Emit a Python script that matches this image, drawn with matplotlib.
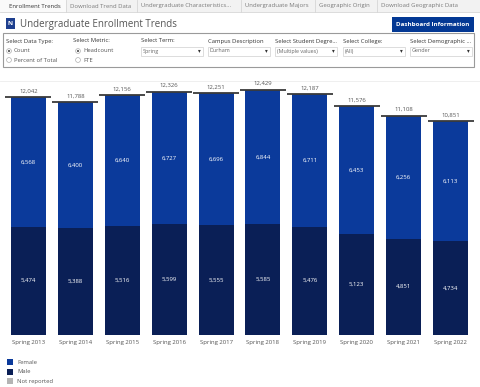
import matplotlib
matplotlib.use('Agg')
import matplotlib.pyplot as plt
from matplotlib.patches import Rectangle, Circle

plt.rcParams['font.family'] = ['Open Sans', 'DejaVu Sans']

# Data
terms = ['Spring 2013', 'Spring 2014', 'Spring 2015', 'Spring 2016', 'Spring 2017',
         'Spring 2018', 'Spring 2019', 'Spring 2020', 'Spring 2021', 'Spring 2022']
male = [5474, 5388, 5516, 5599, 5555, 5585, 5476, 5123, 4851, 4734]
female = [6568, 6400, 6640, 6727, 6696, 6844, 6711, 6453, 6256, 6113]
totals = [12042, 11788, 12156, 12326, 12251, 12429, 12187, 11576, 11108, 10851]
not_reported = [t - m - f for t, m, f in zip(totals, male, female)]

tabs = ['Enrollment Trends', 'Download Trend Data', 'Undergraduate Characteristics...',
        'Undergraduate Majors', 'Geographic Origin', 'Download Geographic Data']
tab_edges = [0, 66, 137, 241, 315, 377, 480]

filter_labels = ['Select Term:', 'Campus Description', 'Select Student Degre...',
                 'Select College:', 'Select Demographic ...']
filter_values = ['Spring', 'Durham', '(Multiple values)', '(All)', 'Gender']
filter_x = [141, 208, 275, 343, 410]

legend_names = ['Female', 'Male', 'Not reported']

FEMALE_C = '#0b3a9b'
MALE_C = '#0a1f56'
NR_C = '#b4b4b4'
W, H = 480, 387

fig = plt.figure(figsize=(W / 100, H / 100), dpi=100)

# background axes in pixel coordinates for the dashboard chrome
bg = fig.add_axes([0, 0, 1, 1])
bg.set_xlim(0, W)
bg.set_ylim(H, 0)
bg.axis('off')

# tab strip
bg.add_patch(Rectangle((0, 0), W, 12, facecolor='#f2f2f2', edgecolor='none'))
bg.add_patch(Rectangle((0, 0), 66, 12, facecolor='#fafafa', edgecolor='none'))
bg.plot([0, W], [12, 12], color='#d6d6d6', lw=0.6)
for i, name in enumerate(tabs):
    x0 = tab_edges[i]
    if i > 0:
        bg.plot([x0, x0], [0, 12], color='#d6d6d6', lw=0.6)
    bg.text(x0 + (9 if i == 0 else 4), 6, name, fontsize=4.3, va='center', ha='left',
            color='#333333' if i == 0 else '#7a7a7a')

# logo and title
bg.add_patch(Rectangle((6, 18), 9, 11, facecolor='#1e3f8e', edgecolor='none'))
bg.text(10.5, 23.5, 'N', fontsize=4.5, color='white', ha='center', va='center',
        fontweight='bold')
bg.text(20, 24, 'Undergraduate Enrollment Trends', fontsize=7, color='#555555',
        va='center', ha='left')

# dashboard information button
bg.add_patch(Rectangle((392, 17), 82, 15, facecolor='#033894', edgecolor='none'))
bg.text(433, 24.5, 'Dashboard Information', fontsize=4.5, color='white',
        fontweight='bold', ha='center', va='center')

# filter panel
bg.add_patch(Rectangle((3, 33), 471, 34, facecolor='white', edgecolor='#9a9a9a', lw=0.8))
bg.text(6, 41, 'Select Data Type:', fontsize=4.2, color='#333333', va='center')
bg.text(73, 41, 'Select Metric:', fontsize=4.2, color='#333333', va='center')
radios = [(9, 51, 'Count', True), (9, 60, 'Percent of Total', False),
          (78, 51, 'Headcount', True), (78, 60, 'FTE', False)]
for rx, ry, txt, on in radios:
    bg.add_patch(Circle((rx, ry), 2.4, facecolor='white', edgecolor='#b0b0b0', lw=0.5))
    if on:
        bg.add_patch(Circle((rx, ry), 1.1, facecolor='#555555', edgecolor='none'))
    bg.text(rx + 5, ry, txt, fontsize=4.2, color='#555555', va='center')
for fx, lab, val in zip(filter_x, filter_labels, filter_values):
    bg.text(fx, 41, lab, fontsize=4.2, color='#333333', va='center')
    bg.add_patch(Rectangle((fx, 46.5), 62, 9, facecolor='white', edgecolor='#cfcfcf', lw=0.5))
    bg.text(fx + 2, 51, val, fontsize=3.9, color='#666666', va='center')
    bg.text(fx + 58, 51, '\u25be', fontsize=4, color='#333333', va='center', ha='center')

bg.plot([0, W], [81, 81], color='#ececec', lw=0.6)

# legend
for i, (name, c) in enumerate(zip(legend_names, [FEMALE_C, MALE_C, NR_C])):
    y = 362 + i * 9.5
    bg.add_patch(Rectangle((7, y - 3), 6, 6, facecolor=c, edgecolor='none'))
    bg.text(17, y, name, fontsize=4.2, color='#555555', va='center')

# chart axes
top_px, bot_px = 84, 334.5
ax = fig.add_axes([5 / W, 1 - bot_px / H, 469 / W, (bot_px - top_px) / H])
ax.patch.set_alpha(0)
x = list(range(len(terms)))
bw = 0.746
ax.bar(x, male, width=bw, color=MALE_C)
ax.bar(x, female, width=bw, bottom=male, color=FEMALE_C)
fm = [m + f for m, f in zip(male, female)]
ax.bar(x, not_reported, width=bw, bottom=fm, color=NR_C)

for i in x:
    ax.plot([i - 0.49, i + 0.49], [totals[i], totals[i]], color='#3a3a3a', lw=1.3,
            solid_capstyle='butt')
    ax.annotate(f'{totals[i]:,}', (i, totals[i]), xytext=(0, 2.5), textcoords='offset points',
                ha='center', va='bottom', fontsize=4.3, color='#555555')
    ax.text(i, male[i] / 2, f'{male[i]:,}', ha='center', va='center', fontsize=4.3,
            color='white')
    ax.text(i, male[i] + female[i] / 2, f'{female[i]:,}', ha='center', va='center',
            fontsize=4.3, color='white')

ax.set_xlim(-0.5, len(terms) - 0.5)
ax.set_ylim(0, (bot_px - top_px) / 0.0197)
ax.set_xticks(x)
ax.set_xticklabels(terms, fontsize=4.3, color='#555555')
ax.tick_params(axis='x', length=0, pad=4)
ax.set_yticks([])
for s in ax.spines.values():
    s.set_visible(False)

fig.savefig('out.png', dpi=100)
